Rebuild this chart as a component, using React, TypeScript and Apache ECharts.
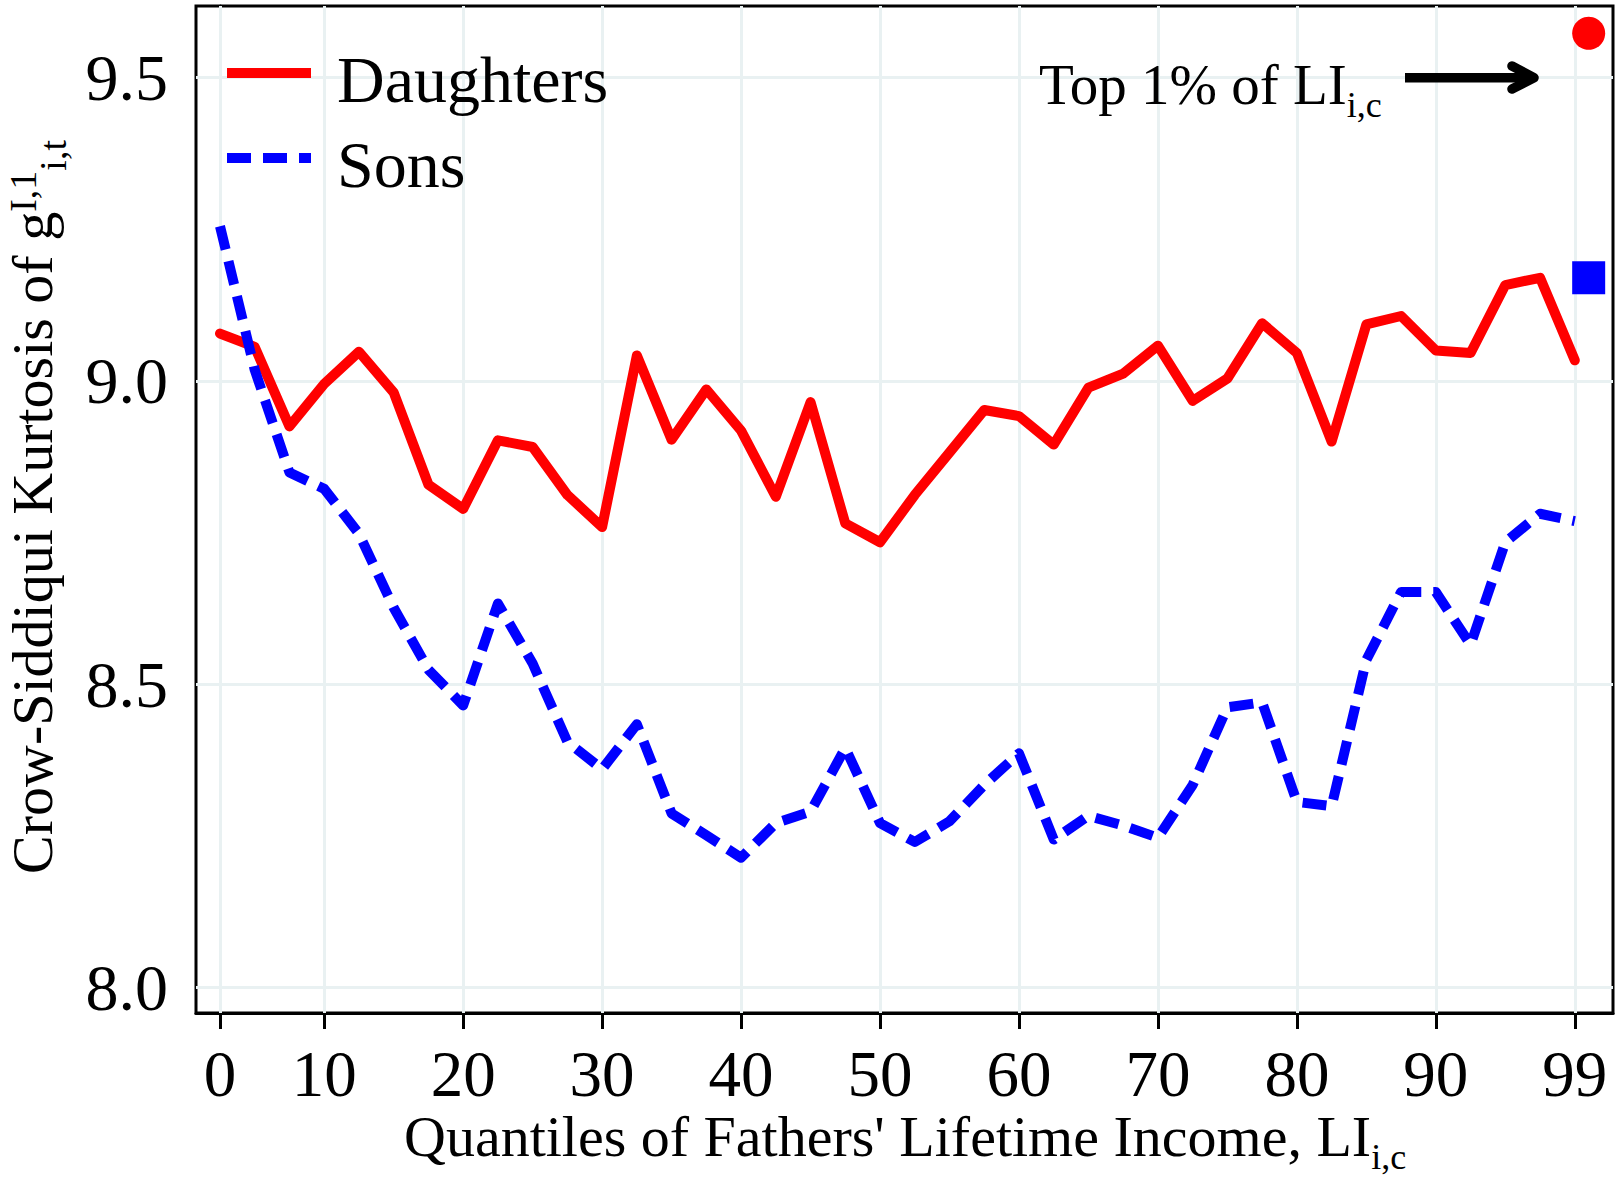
import React, { useEffect, useRef } from 'react';
import * as echarts from 'echarts';

// ---- data ----
const xTickIndices = [0, 3, 7, 11, 15, 19, 23, 27, 31, 35, 39];
const xTickLabels = ['0', '10', '20', '30', '40', '50', '60', '70', '80', '90', '99'];
const yTickValues = [8.0, 8.5, 9.0, 9.5];

const daughters = [
  9.078, 9.056, 8.925, 8.995, 9.048, 8.981, 8.829, 8.789, 8.902, 8.891,
  8.812, 8.759, 9.042, 8.903, 8.986, 8.918, 8.809, 8.965, 8.765, 8.734,
  8.812, 8.882, 8.952, 8.942, 8.895, 8.989, 9.012, 9.058, 8.967, 9.004,
  9.095, 9.046, 8.900, 9.093, 9.107, 9.050, 9.046, 9.158, 9.170, 9.034,
];
const sons = [
  9.255, 9.018, 8.849, 8.822, 8.748, 8.626, 8.524, 8.465, 8.633, 8.534,
  8.405, 8.360, 8.434, 8.287, 8.251, 8.214, 8.271, 8.290, 8.395, 8.271,
  8.240, 8.274, 8.334, 8.386, 8.244, 8.283, 8.267, 8.247, 8.334, 8.462,
  8.470, 8.306, 8.299, 8.540, 8.652, 8.652, 8.565, 8.734, 8.781, 8.769,
];
const top1X = 39.4;
const top1Daughters = 9.573;
const top1Sons = 9.17;

const FONT = '"Liberation Serif", "Times New Roman", serif';
const RED = '#ff0000';
const BLUE = '#0000ff';
const GRIDC = '#e9f1f2';

function measure(text: string, size: number): number {
  const ctx = document.createElement('canvas').getContext('2d');
  if (!ctx) return text.length * size * 0.5;
  ctx.font = `${size}px ${FONT}`;
  return ctx.measureText(text).width;
}

type Run = { text: string; size: number; shift: number };

// builds text elements along a baseline (local coords), shift>0 moves below baseline
function buildRuns(runs: Run[]) {
  const out: any[] = [];
  let x = 0;
  runs.forEach((r) => {
    out.push({
      type: 'text',
      x,
      y: r.shift - 0.3375 * r.size,
      silent: true,
      z: 10,
      style: {
        text: r.text,
        fontSize: r.size,
        fontFamily: FONT,
        fill: '#000',
        align: 'left',
        verticalAlign: 'middle',
        lineHeight: Math.round(r.size * 0.75),
      },
    });
    x += measure(r.text, r.size);
  });
  return out;
}

export default function App() {
  const ref = useRef<HTMLDivElement>(null);

  useEffect(() => {
    if (!ref.current) return;
    const chart = echarts.init(ref.current, null, { renderer: 'svg' });

    const yTitle = {
      type: 'group',
      x: 52,
      y: 874,
      z: 10,
      rotation: Math.PI / 2,
      children: buildRuns([
        { text: 'Crow-Siddiqui Kurtosis of g', size: 58, shift: 0 },
        { text: 'I,1', size: 38, shift: -16 },
        { text: 'i,t', size: 38, shift: 14 },
      ]),
    };
    const xTitle = {
      type: 'group',
      x: 404,
      y: 1156,
      z: 10,
      children: buildRuns([
        { text: "Quantiles of Fathers' Lifetime Income, LI", size: 58, shift: 0 },
        { text: 'i,c', size: 36, shift: 13 },
      ]),
    };
    const annot = {
      type: 'group',
      x: 1039,
      y: 104,
      z: 10,
      children: buildRuns([
        { text: 'Top 1% of LI', size: 57, shift: 0 },
        { text: 'i,c', size: 36, shift: 13 },
      ]),
    };

    const option: any = {
      animation: false,
      backgroundColor: '#fff',
      grid: {
        left: 196,
        right: 8,
        top: 6,
        bottom: 170,
        show: true,
        borderColor: '#000',
        borderWidth: 3,
        backgroundColor: 'transparent',
      },
      xAxis: {
        type: 'value',
        min: -0.691,
        max: 40.1,
        axisLine: { show: true, lineStyle: { color: '#000', width: 3 } },
        axisTick: {
          show: true,
          customValues: xTickIndices,
          length: 16,
          lineStyle: { color: '#000', width: 3 },
        },
        axisLabel: {
          customValues: xTickIndices,
          formatter: (v: number) => {
            const i = xTickIndices.indexOf(Math.round(v));
            return i >= 0 ? xTickLabels[i] : '';
          },
          fontSize: 65,
          fontFamily: FONT,
          color: '#000',
          lineHeight: 50,
          margin: 36,
        },
        splitLine: { show: false },
      },
      yAxis: {
        type: 'value',
        min: 7.958,
        max: 9.618,
        axisLine: { show: true, lineStyle: { color: '#000', width: 3 } },
        axisTick: {
          show: true,
          customValues: yTickValues,
          length: 17,
          lineStyle: { color: '#000', width: 3 },
        },
        axisLabel: {
          customValues: yTickValues,
          formatter: (v: number) => v.toFixed(1),
          fontSize: 66,
          fontFamily: FONT,
          color: '#000',
          margin: 28,
          padding: [14, 0, 0, 0],
        },
        splitLine: { show: false },
      },
      series: [
        {
          type: 'line',
          name: 'grid',
          data: [[-10, -10]],
          symbol: 'none',
          lineStyle: { opacity: 0 },
          silent: true,
          z: 1,
          markLine: {
            silent: true,
            z: 1,
            symbol: ['none', 'none'],
            label: { show: false },
            lineStyle: { color: GRIDC, width: 3, type: 'solid' },
            emphasis: { disabled: true },
            data: [
              ...xTickIndices.map((v) => ({ xAxis: v })),
              ...yTickValues.map((v) => ({ yAxis: v })),
            ],
          },
        },
        {
          type: 'line',
          name: 'Daughters',
          data: daughters.map((v, i) => [i, v]),
          symbol: 'none',
          lineStyle: { color: RED, width: 10, join: 'round', cap: 'round' },
          z: 3,
        },
        {
          type: 'line',
          name: 'Sons',
          data: sons.map((v, i) => [i, v]),
          symbol: 'none',
          lineStyle: { color: BLUE, width: 10, type: [24, 12], join: 'round', cap: 'butt' },
          z: 4,
        },
        {
          type: 'scatter',
          name: 'Top 1%',
          symbolSize: 33,
          z: 5,
          itemStyle: { opacity: 1 },
          data: [
            { value: [top1X, top1Daughters], symbol: 'circle', itemStyle: { color: RED, opacity: 1 } },
            { value: [top1X, top1Sons], symbol: 'rect', itemStyle: { color: BLUE, opacity: 1 } },
          ],
        },
      ],
      graphic: [
        {
          type: 'line',
          silent: true,
          z: 10,
          shape: { x1: 227, y1: 73, x2: 311, y2: 73 },
          style: { stroke: RED, lineWidth: 10 },
        },
        {
          type: 'text',
          silent: true,
          z: 10,
          x: 337,
          y: 102 - 0.3375 * 66,
          style: { text: 'Daughters', fontSize: 66, fontFamily: FONT, fill: '#000', align: 'left', verticalAlign: 'middle', lineHeight: 50 },
        },
        {
          type: 'line',
          silent: true,
          z: 10,
          shape: { x1: 227, y1: 158, x2: 311, y2: 158 },
          style: { stroke: BLUE, lineWidth: 10, lineDash: [24, 12] },
        },
        {
          type: 'text',
          silent: true,
          z: 10,
          x: 337,
          y: 187 - 0.3375 * 66,
          style: { text: 'Sons', fontSize: 66, fontFamily: FONT, fill: '#000', align: 'left', verticalAlign: 'middle', lineHeight: 50 },
        },
        annot,
        {
          type: 'line',
          silent: true,
          z: 10,
          shape: { x1: 1405, y1: 77.7, x2: 1530, y2: 77.7 },
          style: { stroke: '#000', lineWidth: 9.5 },
        },
        {
          type: 'polyline',
          silent: true,
          z: 10,
          shape: { points: [[1512, 66], [1534, 77.7], [1512, 89]] },
          style: { stroke: '#000', lineWidth: 9.5, lineCap: 'round', lineJoin: 'round', fill: 'none' },
        },
        xTitle,
        yTitle,
      ],
    };

    chart.setOption(option);
    return () => chart.dispose();
  }, []);

  return (
    <div
      ref={ref}
      style={{ position: 'fixed', left: 0, top: 0, width: 1621, height: 1183, background: '#fff' }}
    />
  );
}
